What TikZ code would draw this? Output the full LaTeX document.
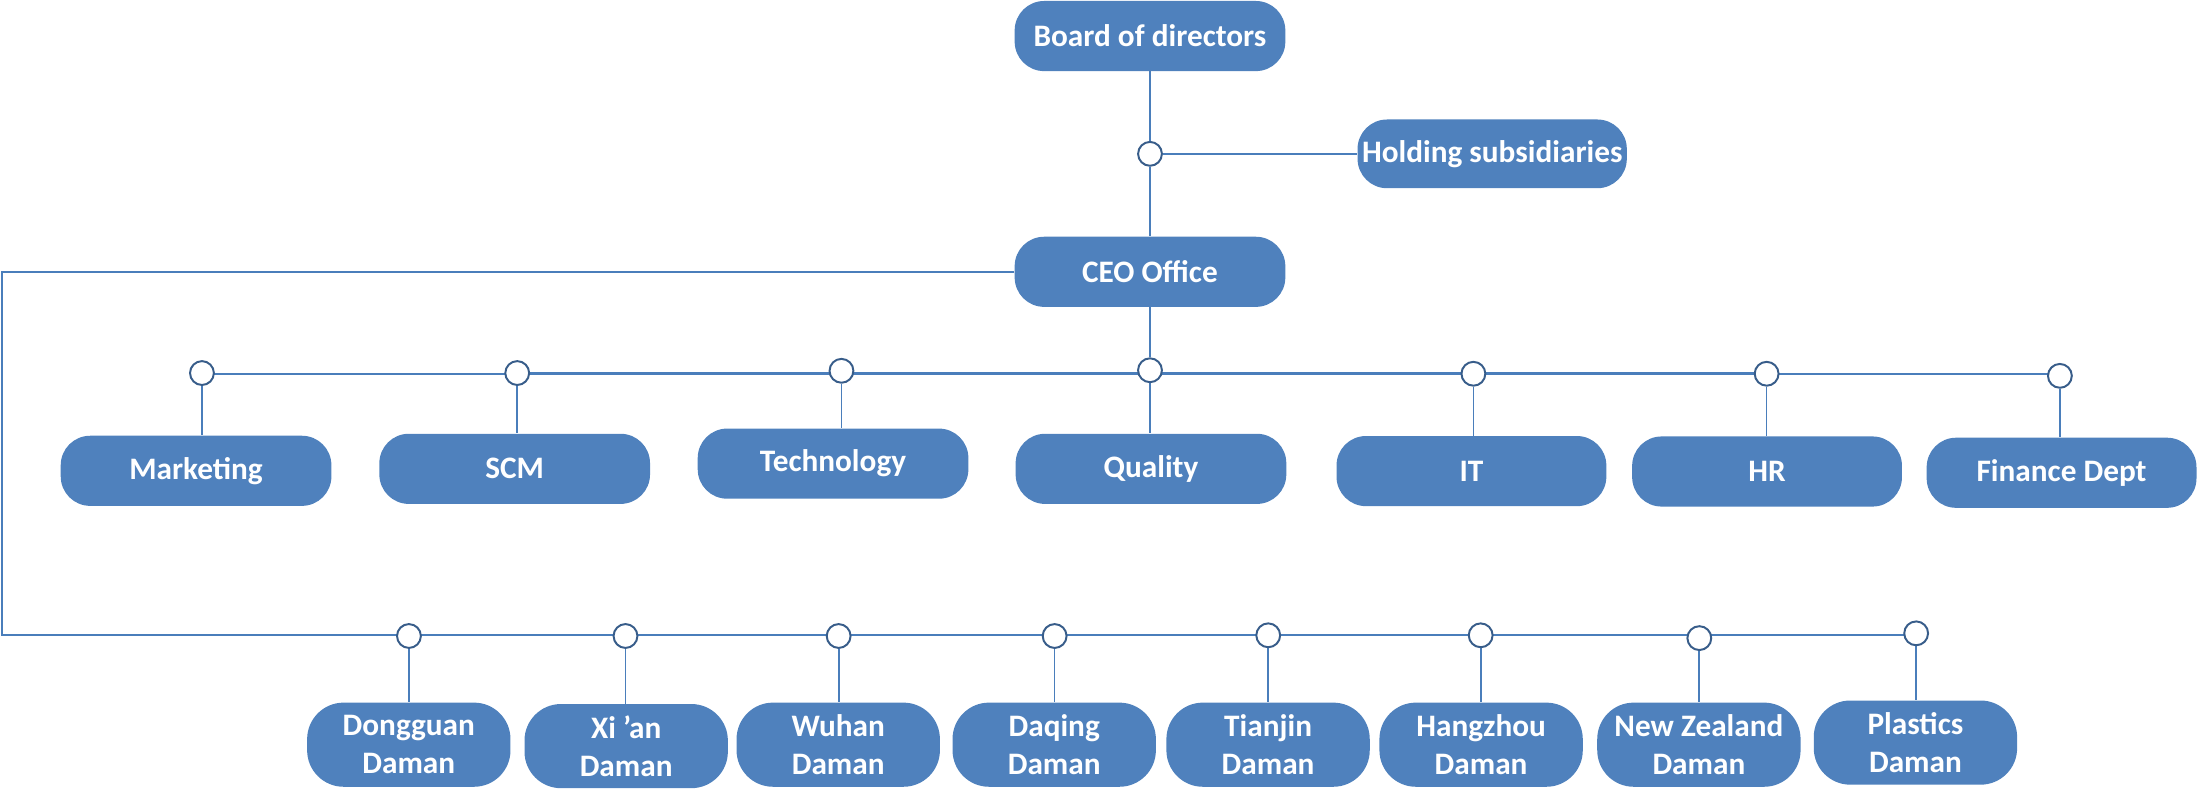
\documentclass[tikz,border=0pt]{standalone}
\usepackage{fontspec}
\setmainfont{Carlito}
\usetikzlibrary{backgrounds}
\definecolor{boxblue}{HTML}{4F81BD}
\definecolor{lineblue}{HTML}{4A7EBB}
\definecolor{ringblue}{HTML}{385D8A}
\begin{document}
\begin{tikzpicture}[x=1pt,y=-1pt,
  box/.style={rectangle, rounded corners=21pt, fill=boxblue, text=white,
    minimum width=193pt, minimum height=50pt, inner sep=0pt,
    font=\bfseries\fontsize{22.3}{26.8}\selectfont, align=center},
  sbox/.style={box, rounded corners=26pt, minimum width=145pt, minimum height=60pt},
  ring/.style={circle, draw=ringblue, fill=white, line width=1.4pt,
    minimum size=17pt, inner sep=0pt},
  conn/.style={draw=lineblue, line width=1.2pt},
  rowline/.style={draw=lineblue, line width=1.9pt}]
\useasboundingbox (0,0) rectangle (1568,568.3);

% top
\node[box] (board) at (820,25.7) {Board of directors};
\node[box, minimum width=192pt, minimum height=49pt] (hold) at (1064,109.7) {Holding subsidiaries};
\node[box] (ceo) at (820,193.8) {CEO Office};
\node[ring] (c0) at (820,109.7) {};

% department circles
\node[ring] (cmkt) at (144,266) {};
\node[ring] (cscm) at (368.8,266) {};
\node[ring] (ctech) at (600,264.4) {};
\node[ring] (cqual) at (820,264) {};
\node[ring] (cit) at (1050.6,266.5) {};
\node[ring] (chr) at (1259.7,266.5) {};
\node[ring] (cfin) at (1468.8,268) {};

% department boxes
\node[box] (mkt) at (139.8,335.7) {Marketing};
\node[box] (scm) at (367,334.3) {SCM};
\node[box] (tech) at (594,330.6) {Technology};
\node[box] (qual) at (820.7,334.3) {Quality};
\node[box, minimum width=192.4pt] (it) at (1049.2,335.9) {IT};
\node[box, minimum width=192.4pt] (hr) at (1260,336.2) {HR};
\node[box, minimum width=192.4pt] (fin) at (1470,337.1) {Finance Dept};

% bottom circles
\node[ring] (cdg) at (291.6,453.5) {};
\node[ring] (cxa) at (446,453.5) {};
\node[ring] (cwh) at (598,453.5) {};
\node[ring] (cdq) at (752,453.5) {};
\node[ring] (ctj) at (904.3,453) {};
\node[ring] (chz) at (1055.8,453) {};
\node[ring] (cnz) at (1211.7,455) {};
\node[ring] (cpl) at (1366.3,451.6) {};

% bottom boxes
\node[sbox] (dg) at (291.5,531) {Dongguan\\Daman};
\node[sbox] (xa) at (446.5,532) {Xi ’an\\Daman};
\node[sbox] (wh) at (597.7,531) {Wuhan\\Daman};
\node[sbox] (dq) at (751.7,531) {Daqing\\Daman};
\node[sbox] (tj) at (904.2,531) {Tianjin\\Daman};
\node[sbox] (hz) at (1056.1,531) {Hangzhou\\Daman};
\node[sbox] (nz) at (1211.4,531) {New Zealand\\Daman};
\node[sbox] (pl) at (1365.8,529.5) {Plastics\\Daman};

\coordinate (lefttop) at (1.5,193.8);
\coordinate (leftbot) at (1.5,452.5);
\coordinate (rowy) at (0,266.5);

\begin{scope}[on background layer]
% top connectors
\draw[conn] (board) -- (c0);
\draw[conn] (c0) -- (hold);
\draw[conn] (c0) -- (ceo);
\draw[conn] (ceo) -- (cqual);

% department row
\draw[conn, line width=1.4pt] (cmkt |- rowy) -- (cscm |- rowy);
\draw[rowline] (cscm |- rowy) -- (chr |- rowy);
\draw[conn, line width=1.4pt] (chr |- rowy) -- (cfin |- rowy);
\foreach \c/\b in {cmkt/mkt, cscm/scm, ctech/tech, cqual/qual, cit/it, chr/hr, cfin/fin}
  \draw[conn] (\c) -- (\c |- \b.north);

% branches
\draw[conn, line width=1.4pt] (ceo.west) -- (lefttop) -- (leftbot) -- (leftbot -| cpl);
\foreach \c/\b in {cdg/dg, cxa/xa, cwh/wh, cdq/dq, ctj/tj, chz/hz, cnz/nz, cpl/pl}
  \draw[conn] (\c) -- (\c |- \b.north);
\end{scope}
\end{tikzpicture}
\end{document}
